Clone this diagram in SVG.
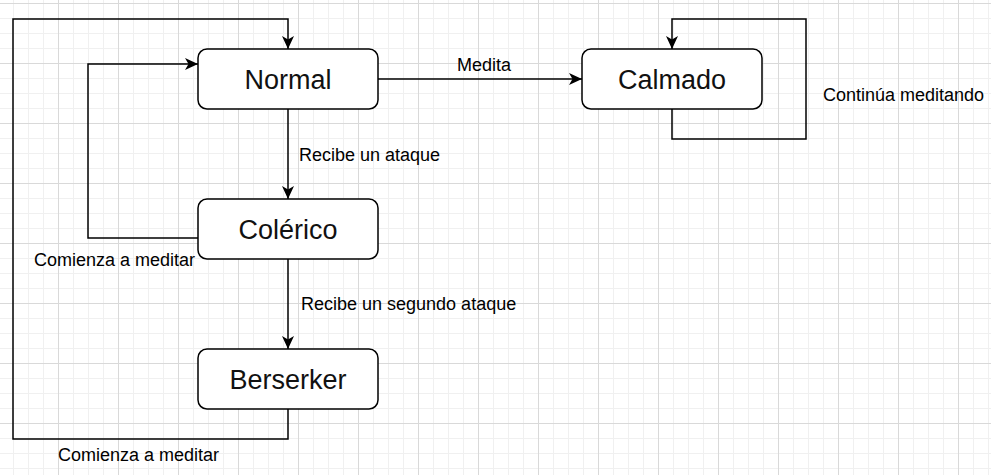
<svg xmlns="http://www.w3.org/2000/svg" width="991" height="475" viewBox="0 0 991 475">
<defs>
<pattern id="grid" x="58" y="3" width="60" height="60" patternUnits="userSpaceOnUse">
<path d="M15.5,0V60M30.5,0V60M45.5,0V60M0,15.5H60M0,30.5H60M0,45.5H60" stroke="#f0f0f0" stroke-width="1" fill="none"/>
<path d="M0.5,0V60M0,0.5H60" stroke="#d9d9d9" stroke-width="1" fill="none"/>
</pattern>
<marker id="arrow" viewBox="-14 -7 15 14" refX="0" refY="0" markerWidth="15" markerHeight="14" markerUnits="userSpaceOnUse" orient="auto">
<path d="M0,0 L-13,-6 L-9.5,0 L-13,6 Z" fill="#000"/>
</marker>
</defs>
<style>
.node rect{fill:#fff;stroke:#000;stroke-width:1.5}
.node text{font-family:"Liberation Sans",Arial,sans-serif;font-size:27px;fill:#111;text-anchor:middle}
.edges path{fill:none;stroke:#000;stroke-width:1.5}
.lbl{font-family:"Liberation Sans",Arial,sans-serif;font-size:18px;fill:#000}
</style>
<rect width="991" height="475" fill="#fff"/>
<rect width="991" height="475" fill="url(#grid)"/>
<g id="connectors" class="edges">
<path d="M288,109V199" marker-end="url(#arrow)"/>
<path d="M288,259V349" marker-end="url(#arrow)"/>
<path d="M378,79H582" marker-end="url(#arrow)"/>
<path d="M672,109V139H806V19H672V49" marker-end="url(#arrow)"/>
<path d="M198,238H88V64H198" marker-end="url(#arrow)"/>
<path d="M288,409V439H13V19H288V49" marker-end="url(#arrow)"/>
<text class="lbl" x="299" y="161">Recibe un ataque</text>
<text class="lbl" x="301" y="310">Recibe un segundo ataque</text>
<text class="lbl" x="457" y="71">Medita</text>
<text class="lbl" x="823" y="101">Continúa meditando</text>
<text class="lbl" x="34" y="266">Comienza a meditar</text>
<text class="lbl" x="58" y="461">Comienza a meditar</text>
</g>
<g id="normal" class="node"><rect x="198" y="49" width="180" height="60" rx="9"/><text x="288" y="88.5">Normal</text></g>
<g id="calmado" class="node"><rect x="582" y="49" width="180" height="60" rx="9"/><text x="672" y="88.5">Calmado</text></g>
<g id="colerico" class="node"><rect x="198" y="199" width="180" height="60" rx="9"/><text x="288" y="238.5">Colérico</text></g>
<g id="berserker" class="node"><rect x="198" y="349" width="180" height="60" rx="9"/><text x="288" y="388.5">Berserker</text></g>
</svg>
